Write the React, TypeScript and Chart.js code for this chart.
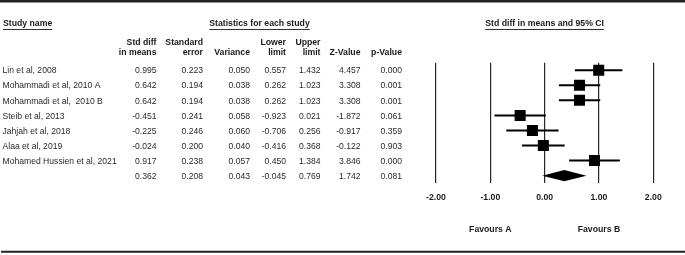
import React, { useEffect, useRef } from "react";
import { Chart, registerables } from "chart.js";

Chart.register(...registerables);

const studies = [
  "Lin et al, 2008",
  "Mohammadi et al, 2010 A",
  "Mohammadi et al,  2010 B",
  "Steib et al, 2013",
  "Jahjah et al, 2018",
  "Alaa et al, 2019",
  "Mohamed Hussien et al, 2021",
  "",
];
const stdDiff = [0.995, 0.642, 0.642, -0.451, -0.225, -0.024, 0.917, 0.362];
const stdErr = [0.223, 0.194, 0.194, 0.241, 0.246, 0.2, 0.238, 0.208];
const variance = [0.05, 0.038, 0.038, 0.058, 0.06, 0.04, 0.057, 0.043];
const lower = [0.557, 0.262, 0.262, -0.923, -0.706, -0.416, 0.45, -0.045];
const upper = [1.432, 1.023, 1.023, 0.021, 0.256, 0.368, 1.384, 0.769];
const zValue = [4.457, 3.308, 3.308, -1.872, -0.917, -0.122, 3.846, 1.742];
const pValue = [0.0, 0.001, 0.001, 0.061, 0.359, 0.903, 0.0, 0.081];
const xTicks = [-2, -1, 0, 1, 2];
const summaryIndex = 7;

const colHeaders = [
  ["Std diff", "in means"],
  ["Standard", "error"],
  ["", "Variance"],
  ["Lower", "limit"],
  ["Upper", "limit"],
  ["", "Z-Value"],
  ["", "p-Value"],
];

const FONT = "'Liberation Sans', Arial, sans-serif";

const tablePlugin = {
  id: "forestTable",
  afterDatasetsDraw(chart: any) {
    const ctx = chart.ctx;
    const xs = chart.scales.x;
    const ys = chart.scales.y;
    const yc = ys.getPixelForValue(summaryIndex);
    const half = Math.abs(ys.getPixelForValue(summaryIndex + 0.37) - yc);
    ctx.save();
    ctx.fillStyle = "#000";
    ctx.beginPath();
    ctx.moveTo(xs.getPixelForValue(lower[summaryIndex]), yc);
    ctx.lineTo(xs.getPixelForValue(stdDiff[summaryIndex]), yc - half);
    ctx.lineTo(xs.getPixelForValue(upper[summaryIndex]), yc);
    ctx.lineTo(xs.getPixelForValue(stdDiff[summaryIndex]), yc + half);
    ctx.closePath();
    ctx.fill();
    ctx.restore();
  },
  afterDraw(chart: any) {
    const ctx = chart.ctx;
    const xs = chart.scales.x;
    const ys = chart.scales.y;
    ctx.save();
    ctx.textBaseline = "middle";

    const text = (
      s: string,
      x: number,
      y: number,
      align: CanvasTextAlign,
      bold: boolean,
      underline = false
    ) => {
      ctx.font = `${bold ? "bold 8.7px" : "8.6px"} ${FONT}`;
      ctx.fillStyle = bold ? "#1a1a1a" : "#2a2a2a";
      ctx.textAlign = align;
      ctx.fillText(s, x, y);
      if (underline) {
        const w = ctx.measureText(s).width;
        let x0 = x;
        if (align === "center") x0 = x - w / 2;
        if (align === "right") x0 = x - w;
        ctx.strokeStyle = "#333";
        ctx.lineWidth = 1;
        ctx.beginPath();
        ctx.moveTo(x0, Math.round(y + 5) + 0.5);
        ctx.lineTo(x0 + w, Math.round(y + 5) + 0.5);
        ctx.stroke();
      }
    };

    ctx.strokeStyle = "#222";
    ctx.lineWidth = 2.5;
    ctx.beginPath();
    ctx.moveTo(0, 1.3);
    ctx.lineTo(685, 1.3);
    ctx.stroke();
    ctx.lineWidth = 2;
    ctx.beginPath();
    ctx.moveTo(1, 251.7);
    ctx.lineTo(685, 251.7);
    ctx.stroke();

    text("Study name", 3, 23.5, "left", true, true);
    text("Statistics for each study", 259.5, 23.5, "center", true, true);
    text(
      "Std diff in means and 95% CI",
      (xs.left + xs.right) / 2,
      23.5,
      "center",
      true,
      true
    );

    const colRight = [156.5, 203, 250, 286, 320.5, 360.5, 402];
    colHeaders.forEach((h, c) => {
      if (h[0]) text(h[0], colRight[c], 42.5, "right", true);
      text(h[1], colRight[c], 52.7, "right", true);
    });

    const cols = [stdDiff, stdErr, variance, lower, upper, zValue, pValue];
    studies.forEach((name, i) => {
      const y = ys.getPixelForValue(i) + 0.8;
      if (name) text(name, 2.5, y, "left", false);
      cols.forEach((arr, c) => {
        text(arr[i].toFixed(3), colRight[c], y, "right", false);
      });
    });

    text("Favours A", xs.getPixelForValue(-1), 230, "center", true);
    text("Favours B", xs.getPixelForValue(1), 230, "center", true);
    ctx.restore();
  },
};

export default function App() {
  const ref = useRef<HTMLCanvasElement | null>(null);
  useEffect(() => {
    if (!ref.current) return;
    const squares = {
      type: "scatter" as const,
      data: stdDiff
        .slice(0, summaryIndex)
        .map((v, i) => ({ x: v, y: i })),
      pointStyle: "rect",
      pointRadius: 7.8,
      pointHoverRadius: 7.8,
      backgroundColor: "#000",
      borderWidth: 0,
    };
    const ciLines = studies.slice(0, summaryIndex).map((_, i) => ({
      type: "line" as const,
      data: [
        { x: lower[i], y: i },
        { x: upper[i], y: i },
      ],
      borderColor: "#000",
      borderWidth: 2,
      pointRadius: 0,
      showLine: true,
      fill: false,
    }));
    const chart = new Chart(ref.current, {
      type: "scatter",
      data: { datasets: [squares as any, ...(ciLines as any[])] },
      options: {
        animation: false,
        responsive: false,
        layout: { padding: { left: 436, right: 31.7, top: 62.7, bottom: 0 } },
        plugins: {
          legend: { display: false },
          tooltip: { enabled: false },
        },
        events: [],
        scales: {
          x: {
            type: "linear",
            min: -2,
            max: 2,
            afterBuildTicks: (s: any) => {
              s.ticks = xTicks.map((v) => ({ value: v }));
            },
            afterFit: (s: any) => {
              s.height = 255 - 183.2;
            },
            ticks: {
              callback: (v: any) => Number(v).toFixed(2),
              font: { family: FONT, size: 8.7, weight: "bold" },
              color: "#1a1a1a",
              padding: 9,
              maxRotation: 0,
              autoSkip: false,
            },
            grid: { color: "#262626", lineWidth: 1.2, drawTicks: false },
            border: { display: false },
          },
          y: {
            type: "linear",
            reverse: true,
            min: -0.5,
            max: 7.5,
            display: false,
          },
        },
      },
      plugins: [tablePlugin],
    });
    return () => chart.destroy();
  }, []);
  return (
    <div
      style={{
        position: "fixed",
        left: 0,
        top: 0,
        width: 685,
        height: 255,
        background: "#fff",
      }}
    >
      <canvas ref={ref} width={685} height={255} style={{ display: "block" }} />
    </div>
  );
}
